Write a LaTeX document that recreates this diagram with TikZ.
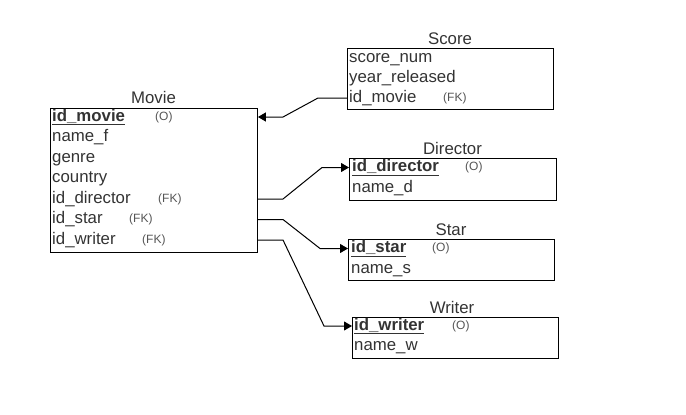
\documentclass[tikz,border=0pt]{standalone}
\usepackage{fontspec}
\setmainfont{Liberation Sans}
\usetikzlibrary{arrows.meta}
\definecolor{fieldgray}{HTML}{333333}
\definecolor{taggray}{HTML}{555555}

\begin{document}
\begin{tikzpicture}[x=1pt, y=-1pt,
  tbl/.style={draw, line width=0.9pt, anchor=north west, inner sep=0pt},
  ttl/.style={anchor=base, font=\fontsize{16.8}{18}\selectfont, text=fieldgray, inner sep=0pt},
  fld/.style={anchor=west, font=\fontsize{16.8}{18}\selectfont, text=fieldgray, inner sep=0pt, text height=12pt, text depth=4pt},
  key/.style={fld, font=\fontsize{16.8}{18}\selectfont\bfseries},
  tag/.style={anchor=west, font=\fontsize{12}{13}\selectfont, text=taggray, inner sep=0pt},
  link/.style={line width=1pt, -{Triangle[length=8pt, width=9pt]}}]
  \useasboundingbox (0,0) rectangle (686,415);

  % Movie table
  \node[tbl, minimum width=207pt, minimum height=144pt] (movie) at (50,108) {};
  \node[ttl] (movieT) at (153.5,103) {Movie};
  \node[key] (m1) at (52,117) {\underline{id\_movie}};
  \node[fld] (m2) at (52,137.5) {name\_f};
  \node[fld] (m3) at (52,158) {genre};
  \node[fld] (m4) at (52,178.5) {country};
  \node[fld] (m5) at (52,199) {id\_director};
  \node[fld] (m6) at (52,219.5) {id\_star};
  \node[fld] (m7) at (52,240) {id\_writer};
  \node[tag] (m1t) at (155,117) {(O)};
  \node[tag] (m5t) at (158,199) {(FK)};
  \node[tag] (m6t) at (129,219.5) {(FK)};
  \node[tag] (m7t) at (142,240) {(FK)};

  % Score table
  \node[tbl, minimum width=206pt, minimum height=61pt] (score) at (347,48) {};
  \node[ttl] (scoreT) at (450,44) {Score};
  \node[fld] (s1) at (349,58) {score\_num};
  \node[fld] (s2) at (349,78) {year\_released};
  \node[fld] (s3) at (349,98) {id\_movie};
  \node[tag] (s3t) at (443,98) {(FK)};

  % Director table
  \node[tbl, minimum width=207pt, minimum height=42pt] (director) at (349,158) {};
  \node[ttl] (directorT) at (452.5,154) {Director};
  \node[key] (d1) at (352,167.5) {\underline{id\_director}};
  \node[fld] (d2) at (352,188) {name\_d};
  \node[tag] (d1t) at (465,167.5) {(O)};

  % Star table
  \node[tbl, minimum width=206pt, minimum height=41pt] (star) at (348,239) {};
  \node[ttl] (starT) at (451,235) {Star};
  \node[key] (st1) at (351,248.5) {\underline{id\_star}};
  \node[fld] (st2) at (351,269) {name\_s};
  \node[tag] (st1t) at (432,248.5) {(O)};

  % Writer table
  \node[tbl, minimum width=206pt, minimum height=41pt] (writer) at (352,317) {};
  \node[ttl] (writerT) at (452,313) {Writer};
  \node[key] (w1) at (354,326) {\underline{id\_writer}};
  \node[fld] (w2) at (354,346.5) {name\_w};
  \node[tag] (w1t) at (452,326) {(O)};

  % Relations
  \draw[link] (score.west |- s3) -- (318,98) -- (283,117) -- (movie.east |- m1);
  \draw[link] (movie.east |- m5) -- (283,199) -- (322,167.5) -- (director.west |- d1);
  \draw[link] (movie.east |- m6) -- (283,219.5) -- (320,248.5) -- (star.west |- st1);
  \draw[link] (movie.east |- m7) -- (283,240) -- (324,326) -- (writer.west |- w1);
\end{tikzpicture}
\end{document}
